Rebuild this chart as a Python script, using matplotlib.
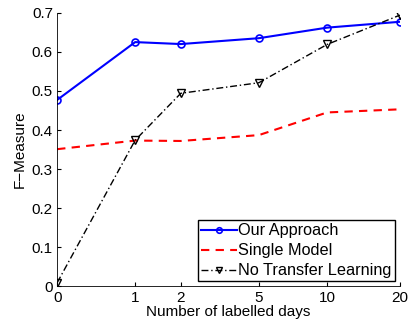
import matplotlib.pyplot as plt
import numpy as np

plt.rcParams['font.family'] = ['Liberation Sans', 'DejaVu Sans']

days = [0, 1, 2, 5, 10, 20]
ours = [0.477, 0.625, 0.620, 0.635, 0.662, 0.677]
single = [0.351, 0.373, 0.372, 0.387, 0.445, 0.453]
no_transfer = [0.009, 0.374, 0.494, 0.521, 0.619, 0.694]

# days axis is on a log(d+1) scale
xpos = np.log(np.array(days) + 1.0)

fig = plt.figure(figsize=(4.11, 3.28), dpi=100)
ax = fig.add_axes([0.139, 0.127, 0.834, 0.834])

ax.plot(xpos, ours, color='blue', lw=1.5, marker='o', ms=5,
        mfc='none', mew=1.2, label='Our Approach')
ax.plot(xpos, single, color='red', lw=1.5, ls=(0, (4, 3)),
        label='Single Model')
ax.plot(xpos, no_transfer, color='black', lw=1.0, ls=(0, (5, 2, 1, 2)),
        marker='v', ms=6, mfc='none', mew=1.0, label='No Transfer Learning')

ax.set_xlim(0, xpos[-1])
ax.set_ylim(0, 0.7)
ax.set_xticks(xpos)
ax.set_xticklabels([str(d) for d in days])
ax.set_yticks(np.arange(0, 0.71, 0.1))
ax.set_yticklabels(['0', '0.1', '0.2', '0.3', '0.4', '0.5', '0.6', '0.7'])
ax.tick_params(direction='in', length=3, labelsize=11, pad=3)
ax.spines['top'].set_visible(False)
ax.spines['right'].set_visible(False)
for s in ['left', 'bottom']:
    ax.spines[s].set_linewidth(0.6)

ax.set_xlabel('Number of labelled days', fontsize=11, labelpad=0)
ax.set_ylabel('F\u2212Measure', fontsize=11, labelpad=4)

leg = ax.legend(loc='lower right', fontsize=11.7, fancybox=False, framealpha=1,
                edgecolor='black', borderpad=0.2, labelspacing=0.3,
                handlelength=2.2, handletextpad=0.1, borderaxespad=0.3,
                markerscale=0.8)
leg.get_frame().set_linewidth(1.0)

fig.savefig('out.png', dpi=100)
